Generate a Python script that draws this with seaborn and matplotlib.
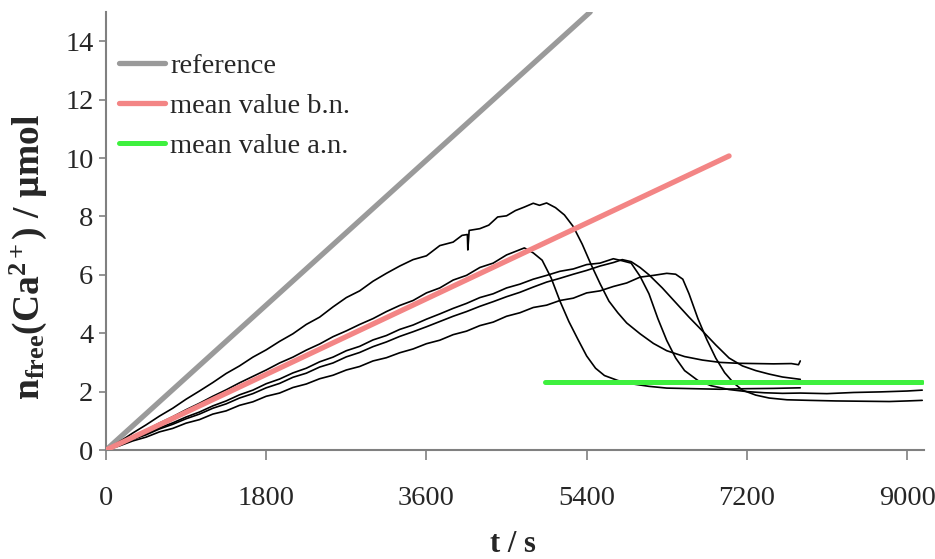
import numpy as np
import pandas as pd
import matplotlib
matplotlib.use("Agg")
import matplotlib.pyplot as plt
import seaborn as sns

# ---------------- data ----------------
ref_t = [0, 5440]
ref_y = [0.0, 15.0]

mean_bn_t = [0, 7000]
mean_bn_y = [0.0, 10.07]

mean_an_t = [4930, 9170]
mean_an_y = [2.32, 2.32]

A_t = [0, 150, 300, 450, 600, 750, 900, 1050, 1200, 1350, 1500, 1650, 1800, 1950,
       2100, 2250, 2400, 2550, 2700, 2850, 3000, 3150, 3300, 3450, 3600, 3750, 3900,
       4000, 4060, 4065, 4080, 4200, 4300, 4400, 4500, 4600, 4700, 4800, 4870, 4950,
       5050, 5150, 5250, 5350, 5450, 5550, 5650, 5750, 5850, 6000, 6150, 6300, 6500,
       6700, 6900, 7100, 7300, 7500, 7700, 7780, 7800]
A_y = [0.00, 0.28, 0.58, 0.86, 1.16, 1.43, 1.74, 2.02, 2.31, 2.62, 2.88, 3.18, 3.43, 3.72,
       3.98, 4.30, 4.55, 4.90, 5.22, 5.45, 5.78, 6.05, 6.30, 6.52, 6.65, 7.00, 7.12,
       7.35, 7.38, 6.85, 7.52, 7.58, 7.70, 7.98, 8.02, 8.20, 8.32, 8.45, 8.38, 8.46,
       8.30, 8.05, 7.65, 7.05, 6.35, 5.70, 5.10, 4.70, 4.35, 3.98, 3.65, 3.40, 3.20,
       3.08, 3.00, 2.97, 2.96, 2.95, 2.96, 2.92, 3.05]

B_t = [0, 150, 300, 450, 600, 750, 900, 1050, 1200, 1350, 1500, 1650, 1800, 1950,
       2100, 2250, 2400, 2550, 2700, 2850, 3000, 3150, 3300, 3450, 3600, 3750, 3900,
       4050, 4200, 4350, 4500, 4600, 4700, 4800, 4900, 5000, 5100, 5200, 5300, 5400,
       5500, 5600, 5750, 5900, 6100, 6300, 6600, 6900, 7200, 7500, 7800]
B_y = [0.00, 0.22, 0.46, 0.68, 0.92, 1.14, 1.38, 1.60, 1.84, 2.06, 2.30, 2.52, 2.74, 2.98,
       3.18, 3.42, 3.63, 3.88, 4.08, 4.30, 4.50, 4.74, 4.95, 5.12, 5.38, 5.55, 5.82,
       5.98, 6.25, 6.40, 6.68, 6.80, 6.92, 6.75, 6.50, 5.90, 5.10, 4.40, 3.80, 3.22,
       2.80, 2.55, 2.38, 2.27, 2.18, 2.12, 2.10, 2.08, 2.10, 2.11, 2.13]

C_t = [0, 150, 300, 450, 600, 750, 900, 1050, 1200, 1350, 1500, 1650, 1800, 1950,
       2100, 2250, 2400, 2550, 2700, 2850, 3000, 3150, 3300, 3450, 3600, 3750, 3900,
       4050, 4200, 4350, 4500, 4650, 4800, 4950, 5100, 5250, 5400, 5550, 5700, 5800,
       5900, 6000, 6100, 6200, 6300, 6400, 6500, 6650, 6800, 7000, 7200, 7400, 7600,
       7800, 8100, 8400, 8700, 9000, 9170]
C_y = [0.00, 0.18, 0.38, 0.55, 0.76, 0.93, 1.13, 1.30, 1.51, 1.68, 1.89, 2.05, 2.27, 2.43,
       2.64, 2.80, 3.02, 3.18, 3.40, 3.55, 3.77, 3.92, 4.13, 4.28, 4.48, 4.66, 4.85,
       5.02, 5.22, 5.35, 5.55, 5.68, 5.85, 5.98, 6.12, 6.20, 6.35, 6.40, 6.55, 6.48,
       6.40, 5.95, 5.35, 4.50, 3.75, 3.15, 2.72, 2.38, 2.20, 2.07, 2.00, 1.96, 1.94,
       1.95, 1.93, 1.97, 1.99, 2.02, 2.05]

D_t = [0, 150, 300, 450, 600, 750, 900, 1050, 1200, 1350, 1500, 1650, 1800, 1950,
       2100, 2250, 2400, 2550, 2700, 2850, 3000, 3150, 3300, 3450, 3600, 3750, 3900,
       4050, 4200, 4350, 4500, 4650, 4800, 4950, 5100, 5250, 5400, 5550, 5700, 5800,
       5900, 6000, 6100, 6250, 6400, 6550, 6700, 6850, 7000, 7150, 7300, 7450, 7600,
       7750, 7800]
D_y = [0.00, 0.17, 0.36, 0.52, 0.72, 0.88, 1.07, 1.23, 1.43, 1.58, 1.78, 1.93, 2.13, 2.28,
       2.49, 2.63, 2.84, 2.98, 3.19, 3.34, 3.54, 3.70, 3.89, 4.05, 4.22, 4.40, 4.58,
       4.74, 4.92, 5.08, 5.25, 5.40, 5.58, 5.75, 5.88, 6.02, 6.15, 6.30, 6.42, 6.52,
       6.45, 6.25, 6.00, 5.55, 5.05, 4.55, 4.08, 3.60, 3.15, 2.88, 2.72, 2.60, 2.50,
       2.44, 2.42]

E_t = [0, 150, 300, 450, 600, 750, 900, 1050, 1200, 1350, 1500, 1650, 1800, 1950,
       2100, 2250, 2400, 2550, 2700, 2850, 3000, 3150, 3300, 3450, 3600, 3750, 3900,
       4050, 4200, 4350, 4500, 4650, 4800, 4950, 5100, 5250, 5400, 5550, 5700, 5850,
       6000, 6150, 6300, 6400, 6480, 6550, 6650, 6750, 6850, 6950, 7050, 7150, 7300,
       7450, 7650, 7900, 8200, 8500, 8800, 9000, 9170]
E_y = [0.00, 0.14, 0.31, 0.44, 0.62, 0.74, 0.92, 1.04, 1.23, 1.34, 1.53, 1.65, 1.84, 1.95,
       2.14, 2.26, 2.44, 2.56, 2.74, 2.86, 3.05, 3.16, 3.33, 3.46, 3.64, 3.76, 3.95,
       4.07, 4.26, 4.38, 4.58, 4.70, 4.88, 4.96, 5.12, 5.20, 5.38, 5.45, 5.60, 5.72,
       5.92, 5.98, 6.05, 6.02, 5.85, 5.35, 4.50, 3.78, 3.15, 2.65, 2.30, 2.05, 1.88,
       1.78, 1.72, 1.70, 1.68, 1.67, 1.66, 1.68, 1.70]

x_ticks = [0, 1800, 3600, 5400, 7200, 9000]
y_ticks = [0, 2, 4, 6, 8, 10, 12, 14]

# ---------------- style ----------------
sns.set_theme(style="white")
plt.rcParams["font.family"] = ["Liberation Serif", "DejaVu Serif"]
plt.rcParams["mathtext.fontset"] = "custom"
plt.rcParams["mathtext.rm"] = "Liberation Serif"
plt.rcParams["mathtext.bf"] = "Liberation Serif:bold"
plt.rcParams["mathtext.it"] = "Liberation Serif:italic"

FS = 20.5
fig = plt.figure(figsize=(9.35, 5.59), dpi=100)
ax = fig.add_axes([106 / 935, 1 - 450 / 559, (924 - 106) / 935, (450 - 12) / 559])

black_curves = [(A_t, A_y), (B_t, B_y), (C_t, C_y), (D_t, D_y), (E_t, E_y)]
for t, y in black_curves:
    sns.lineplot(x=t, y=y, ax=ax, color="black", lw=1.2, sort=False,
                 estimator=None, legend=False, zorder=3)

sns.lineplot(x=ref_t, y=ref_y, ax=ax, color="#9a9a9a", lw=3.8, sort=False,
             estimator=None, label="reference", zorder=2)
sns.lineplot(x=mean_bn_t, y=mean_bn_y, ax=ax, color="#f38585", lw=3.8, sort=False,
             estimator=None, label="mean value b.n.", zorder=4)
sns.lineplot(x=mean_an_t, y=mean_an_y, ax=ax, color="#3ef03e", lw=3.6, sort=False,
             estimator=None, label="mean value a.n.", zorder=4)

ax.set_xlim(0, 9190)
ax.set_ylim(0, 15)
ax.set_xticks(x_ticks)
ax.set_xticklabels([str(v) for v in x_ticks])
ax.set_yticks(y_ticks)
ax.set_yticklabels([str(v) for v in y_ticks])

for side in ["top", "right"]:
    ax.spines[side].set_visible(False)
for side in ["left", "bottom"]:
    ax.spines[side].set_color("#808080")
    ax.spines[side].set_linewidth(1.5)

ax.tick_params(axis="x", direction="out", length=7, width=1.2, color="#808080",
               labelsize=FS, pad=19, bottom=True)
ax.tick_params(axis="y", direction="out", length=5, width=1.2, color="#808080",
               labelsize=FS, pad=4, left=True)

ax.set_xlabel("t / s", fontsize=22, fontweight="bold")
ax.xaxis.set_label_coords(0.498, -0.183)
ax.set_ylabel(r"$\mathbf{n_{free}(Ca^{2+})}$ / µmol", fontsize=27, fontweight="bold")
ax.yaxis.set_label_coords(-0.07, 0.44)

leg = ax.legend(loc="upper left", frameon=False, fontsize=FS, handlelength=1.6,
                handletextpad=0.2, labelspacing=0.5, borderaxespad=0.0,
                bbox_to_anchor=(0.002, 0.933))

fig.savefig("out.png", dpi=100)
